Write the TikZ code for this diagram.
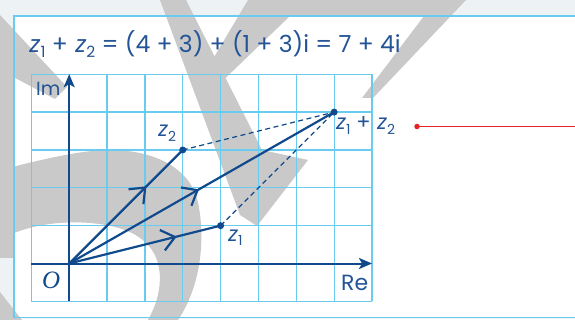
\documentclass[tikz,border=0pt]{standalone}
\usepackage{graphicx}
\usepackage{fontspec}
\setmainfont{Poppins}
\newfontfamily\zit[FakeSlant=0.2]{Poppins}
\newfontfamily\tnr{Liberation Serif}
\usetikzlibrary{arrows.meta,decorations.markings}
\definecolor{vecblue}{RGB}{16,74,140}
\definecolor{txtblue}{RGB}{35,84,150}
\definecolor{gridblue}{RGB}{105,203,240}
\definecolor{framebg}{RGB}{237,242,245}
\definecolor{wmgray}{RGB}{201,201,201}
\definecolor{redline}{RGB}{232,32,40}
\newcommand{\zz}[1]{{\zit z}\kern0.07em\raisebox{-0.2em}{\scalebox{0.66}{#1}}}
\begin{document}
\begin{tikzpicture}[x=1pt,y=-1pt,
  gridline/.style={gridblue, line width=1.3pt},
  vec/.style={vecblue, line width=2.2pt, line cap=round},
  axis/.style={vecblue, line width=2pt, -{Stealth[length=13pt,width=11pt,inset=3pt]}},
  dashline/.style={vecblue, line width=1.2pt, dash pattern=on 5pt off 3.5pt},
  dot/.style={circle, fill=vecblue, inner sep=0pt, minimum size=7pt},
  lbl/.style={txtblue, font=\fontsize{21}{21}\selectfont, inner sep=0pt},
  midarrow/.style={postaction={decorate, decoration={markings, mark=at position #1 with {\arrow{Straight Barb[length=13pt,width=21pt,line width=2.2pt]}}}}}
]
\useasboundingbox (0,0) rectangle (575,320);
\clip (0,0) rectangle (575,320);
% background
\fill[framebg] (0,0) rectangle (575,320);
\fill[white] (14,16) rectangle (580,317.5);
\fill[white] (0,318.5) rectangle (575,320);
% watermark
\fill[wmgray] (0,15) -- (67,87) -- (55,99) -- (0,70) -- cycle;
\fill[wmgray] (0,60) rectangle (14,258);
\fill[wmgray] (0,170) .. controls (40,160) and (80,150) .. (110,150)
  .. controls (150,150) and (185,165) .. (196,195)
  .. controls (205,225) and (205,280) .. (178,320) -- (148,320)
  .. controls (165,290) and (165,255) .. (140,238)
  .. controls (120,222) and (60,215) .. (14,233) -- (0,236) -- cycle;
\fill[wmgray] (0,292) -- (22,320) -- (0,320) -- cycle;
\fill[wmgray] (160,0) -- (186,0) -- (262,150) -- (308,160) -- (257,226) -- (240,215) -- cycle;
\fill[wmgray] (248,0) -- (466,0) -- (373,98) -- (362,98) -- (424,16) -- (290,16) -- (213,90) -- (201,79) -- cycle;
% frame
\draw[gridblue, line width=1.5pt] (14,16) rectangle (590,317.5);
% grid and content
\begin{scope}[shift={(69.2,263.5)}, x=37.85pt, y=37.85pt]
  \foreach \i in {-1,...,8} \draw[gridline] (\i,-1) -- (\i,5);
  \foreach \j in {-1,...,5} \draw[gridline] (-1,\j) -- (8,\j);
  \coordinate (pO) at (0,0);
  \coordinate (pz1) at (4,1);
  \coordinate (pz2) at (3,3);
  \coordinate (ps) at (7,4);
  \coordinate (ybot) at (0,-1);
  \coordinate (ytop) at (0,5);
  \coordinate (xl) at (-1,0);
  \coordinate (xr) at (8,0);
  \draw[axis] (ybot) -- (ytop);
  \draw[axis] (xl) -- (xr);
  \draw[dashline] (pz2) -- (ps);
  \draw[dashline] (pz1) -- (ps);
  \draw[vec, midarrow=0.71] (pO) -- (pz1);
  \draw[vec, midarrow=0.68] (pO) -- (pz2);
  \draw[vec, midarrow=0.49] (pO) -- (ps);
  \node[dot] (z1) at (pz1) {};
  \node[dot] (z2) at (pz2) {};
  \node[dot] (s) at (ps) {};
\end{scope}
% labels
\node[anchor=base west, inner sep=0pt, txtblue, font=\fontsize{23.5}{23.5}\selectfont] (title) at (28,52.5) {\zz{1} + \zz{2} = (4 + 3) + (1 + 3)i = 7 + 4i};
\node[lbl, anchor=base west] (lz2) at (157,137) {\zz{2}};
\node[lbl, anchor=base west] (lz1) at (227,241.5) {\zz{1}};
\node[lbl, anchor=base west] (lsum) at (335,130) {\zz{1} + \zz{2}};
\node[txtblue, font=\fontsize{19}{19}\selectfont, anchor=base west, inner sep=0pt] (im) at (36,96) {Im};
\node[txtblue, font=\fontsize{22}{22}\selectfont, anchor=base west, inner sep=0pt] (re) at (341,290) {Re};
\node[vecblue, font=\fontsize{25}{25}\selectfont\tnr\itshape, anchor=base west, inner sep=0pt] (o) at (42,288) {O};
% red marker
\node[circle, fill=redline, inner sep=0pt, minimum size=5.5pt] (rd) at (417,126.5) {};
\coordinate (rend) at (580,126.5);
\draw[redline, line width=1.2pt] (rd.center) -- (rend);
\end{tikzpicture}
\end{document}
